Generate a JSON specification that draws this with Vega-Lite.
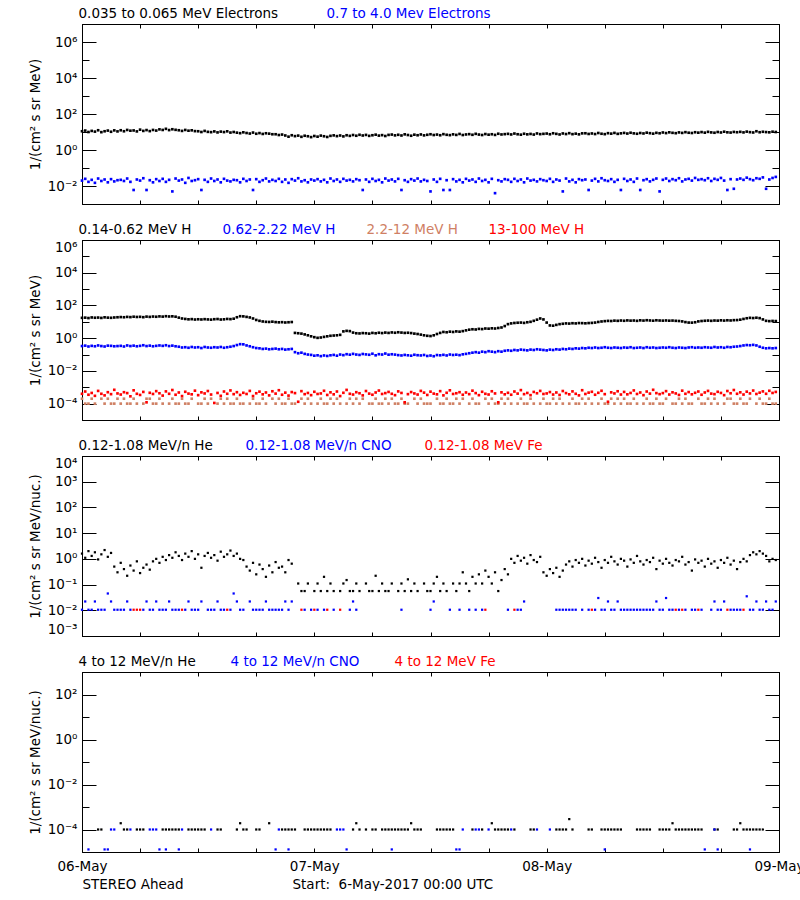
{
"$schema": "https://vega.github.io/schema/vega-lite/v6.json",
"background": "white",
"autosize": {"type": "pad"},
"padding": {"left": 27, "top": 6, "right": 0, "bottom": 0},
"spacing": 36,
"bounds": "flush",
"resolve": {"scale": {"color": "independent"}},
"config": {
  "font": "DejaVu Sans",
  "view": {"stroke": "black", "strokeWidth": 1},
  "axis": {"grid": false, "domainColor": "black", "domainWidth": 1, "tickColor": "black", "tickWidth": 1, "labelColor": "black", "labelFont": "DejaVu Sans", "labelFontSize": 13.5, "titleFont": "DejaVu Sans", "titleFontSize": 13.5, "titleFontWeight": "normal", "titleColor": "black", "labelOverlap": false},
  "legend": {"orient": "none", "legendX": -17, "legendY": -17, "direction": "horizontal", "symbolSize": 0, "symbolOpacity": 0, "symbolStrokeWidth": 0, "labelOffset": 0, "labelFont": "DejaVu Sans", "labelFontSize": 13.5, "labelLimit": 400, "padding": 0}
},
"vconcat": [
{
 "width": 697, "height": 180,
 "data": {"values": [
{"m":0,"a":11,"b":0.02},{"m":20,"a":12,"b":0.025},{"m":40,"a":10,"b":0.017},{"m":60,"a":11.5,"b":0.022},{"m":80,"a":10.5,"b":0.015},{"m":100,"a":12.5,"b":0.026},{"m":120,"a":9.8,"b":0.019},{"m":140,"a":11,"b":0.023},{"m":160,"a":12,"b":0.016},{"m":180,"a":10.3,"b":0.024},{"m":200,"a":12.3,"b":0.018},{"m":220,"a":10.8,"b":0.021},
{"m":240,"a":12.5,"b":0.022},{"m":260,"a":11,"b":0.019},{"m":280,"a":13,"b":0.026},{"m":300,"a":11.8,"b":0.017},{"m":320,"a":12.2,"b":0.006},{"m":340,"a":10.8,"b":0.023},{"m":360,"a":13.5,"b":0.02},{"m":380,"a":11.5,"b":0.027},{"m":400,"a":12.8,"b":0.006},{"m":420,"a":11.2,"b":0.021},{"m":440,"a":13,"b":0.016},{"m":460,"a":12,"b":0.024},
{"m":480,"a":14,"b":0.019},{"m":500,"a":13,"b":0.025},{"m":520,"a":15,"b":0.017},{"m":540,"a":12.8,"b":0.022},{"m":560,"a":14.2,"b":0.005},{"m":580,"a":13.2,"b":0.026},{"m":600,"a":12.5,"b":0.02},{"m":620,"a":11.5,"b":0.023},{"m":640,"a":13,"b":0.015},{"m":660,"a":11.8,"b":0.028},{"m":680,"a":12.4,"b":0.019},{"m":700,"a":11.2,"b":0.021},
{"m":720,"a":11,"b":0.024},{"m":740,"a":10,"b":0.006},{"m":760,"a":11.5,"b":0.022},{"m":780,"a":10.2,"b":0.017},{"m":800,"a":9.8,"b":0.026},{"m":820,"a":10.8,"b":0.019},{"m":840,"a":9.5,"b":0.023},{"m":860,"a":10.5,"b":0.016},{"m":880,"a":9.9,"b":0.025},{"m":900,"a":10.9,"b":0.02},{"m":920,"a":9.3,"b":0.018},{"m":940,"a":10,"b":0.022},
{"m":960,"a":9.2,"b":0.021},{"m":980,"a":8.6,"b":0.016},{"m":1000,"a":9.6,"b":0.025},{"m":1020,"a":8.8,"b":0.019},{"m":1040,"a":8.2,"b":0.023},{"m":1060,"a":9.3,"b":0.006},{"m":1080,"a":8,"b":0.024},{"m":1100,"a":8.7,"b":0.017},{"m":1120,"a":7.8,"b":0.021},{"m":1140,"a":8.5,"b":0.026},{"m":1160,"a":8.1,"b":0.018},{"m":1180,"a":7.5,"b":0.022},
{"m":1200,"a":7.5,"b":0.019},{"m":1220,"a":6.8,"b":0.025},{"m":1240,"a":7.2,"b":0.017},{"m":1260,"a":6.4,"b":0.023},{"m":1280,"a":5.5,"b":0.015},{"m":1300,"a":6.6,"b":0.024},{"m":1320,"a":5.9,"b":0.02},{"m":1340,"a":6.3,"b":0.027},{"m":1360,"a":5.4,"b":0.018},{"m":1380,"a":6.2,"b":0.021},{"m":1400,"a":5.8,"b":0.016},{"m":1420,"a":5.2,"b":0.023},
{"m":1440,"a":6,"b":0.02},{"m":1460,"a":5.5,"b":0.024},{"m":1480,"a":6.3,"b":0.018},{"m":1500,"a":5.8,"b":0.022},{"m":1520,"a":5.3,"b":0.016},{"m":1540,"a":6.1,"b":0.026},{"m":1560,"a":6.5,"b":0.019},{"m":1580,"a":5.9,"b":0.023},{"m":1600,"a":6.4,"b":0.017},{"m":1620,"a":5.7,"b":0.025},{"m":1640,"a":6.6,"b":0.02},{"m":1660,"a":6.1,"b":0.022},
{"m":1680,"a":6.8,"b":0.018},{"m":1700,"a":6.2,"b":0.024},{"m":1720,"a":7,"b":0.021},{"m":1740,"a":6.4,"b":0.006},{"m":1760,"a":6.9,"b":0.023},{"m":1780,"a":6.1,"b":0.017},{"m":1800,"a":6.6,"b":0.025},{"m":1820,"a":7.1,"b":0.019},{"m":1840,"a":6.3,"b":0.022},{"m":1860,"a":6.7,"b":0.016},{"m":1880,"a":6,"b":0.026},{"m":1900,"a":6.9,"b":0.02},
{"m":1920,"a":7.2,"b":0.023},{"m":1940,"a":6.5,"b":0.018},{"m":1960,"a":7,"b":0.025},{"m":1980,"a":6.4,"b":0.006},{"m":2000,"a":7.4,"b":0.021},{"m":2020,"a":6.8,"b":0.017},{"m":2040,"a":6.2,"b":0.024},{"m":2060,"a":7.1,"b":0.02},{"m":2080,"a":6.6,"b":0.026},{"m":2100,"a":7.3,"b":0.018},{"m":2120,"a":6.5,"b":0.022},{"m":2140,"a":7,"b":0.019},
{"m":2160,"a":7.5,"b":0.005},{"m":2180,"a":6.8,"b":0.023},{"m":2200,"a":7.2,"b":0.017},{"m":2220,"a":6.6,"b":0.025},{"m":2240,"a":7.6,"b":0.006},{"m":2260,"a":7,"b":0.021},{"m":2280,"a":6.7,"b":0.006},{"m":2300,"a":7.4,"b":0.024},{"m":2320,"a":6.9,"b":0.018},{"m":2340,"a":7.8,"b":0.022},{"m":2360,"a":6.8,"b":0.016},{"m":2380,"a":7.3,"b":0.025},
{"m":2400,"a":7.6,"b":0.02},{"m":2420,"a":7,"b":0.023},{"m":2440,"a":7.9,"b":0.017},{"m":2460,"a":7.2,"b":0.026},{"m":2480,"a":6.8,"b":0.019},{"m":2500,"a":7.7,"b":0.022},{"m":2520,"a":7.1,"b":0.016},{"m":2540,"a":7.5,"b":0.025},{"m":2560,"a":6.9,"b":0.004},{"m":2580,"a":8,"b":0.021},{"m":2600,"a":7.3,"b":0.018},{"m":2620,"a":7.6,"b":0.024},
{"m":2640,"a":7.9,"b":0.022},{"m":2660,"a":7.3,"b":0.017},{"m":2680,"a":8.2,"b":0.025},{"m":2700,"a":7.5,"b":0.019},{"m":2720,"a":7.1,"b":0.023},{"m":2740,"a":8,"b":0.016},{"m":2760,"a":7.4,"b":0.026},{"m":2780,"a":7.8,"b":0.02},{"m":2800,"a":7.2,"b":0.022},{"m":2820,"a":8.3,"b":0.018},{"m":2840,"a":7.6,"b":0.024},{"m":2860,"a":7.9,"b":0.021},
{"m":2880,"a":8.2,"b":0.019},{"m":2900,"a":7.5,"b":0.025},{"m":2920,"a":8.5,"b":0.017},{"m":2940,"a":7.9,"b":0.023},{"m":2960,"a":7.3,"b":0.02},{"m":2980,"a":8.3,"b":0.005},{"m":3000,"a":7.7,"b":0.026},{"m":3020,"a":8.6,"b":0.018},{"m":3040,"a":7.6,"b":0.022},{"m":3060,"a":8.1,"b":0.016},{"m":3080,"a":7.4,"b":0.024},{"m":3100,"a":8.4,"b":0.021},
{"m":3120,"a":8.5,"b":0.023},{"m":3140,"a":7.8,"b":0.006},{"m":3160,"a":8.3,"b":0.02},{"m":3180,"a":7.7,"b":0.025},{"m":3200,"a":8.8,"b":0.018},{"m":3220,"a":8,"b":0.027},{"m":3240,"a":7.6,"b":0.021},{"m":3260,"a":8.6,"b":0.019},{"m":3280,"a":8.1,"b":0.024},{"m":3300,"a":8.9,"b":0.017},{"m":3320,"a":7.9,"b":0.022},{"m":3340,"a":8.4,"b":0.006},
{"m":3360,"a":8.9,"b":0.025},{"m":3380,"a":8.2,"b":0.019},{"m":3400,"a":9.1,"b":0.023},{"m":3420,"a":8.4,"b":0.017},{"m":3440,"a":8,"b":0.026},{"m":3460,"a":8.8,"b":0.006},{"m":3480,"a":8.3,"b":0.021},{"m":3500,"a":9.2,"b":0.024},{"m":3520,"a":8.6,"b":0.018},{"m":3540,"a":8.1,"b":0.022},{"m":3560,"a":9,"b":0.026},{"m":3580,"a":8.5,"b":0.005},
{"m":3600,"a":9.4,"b":0.022},{"m":3620,"a":8.7,"b":0.026},{"m":3640,"a":9.6,"b":0.019},{"m":3660,"a":9,"b":0.024},{"m":3680,"a":8.6,"b":0.021},{"m":3700,"a":9.5,"b":0.027},{"m":3720,"a":8.9,"b":0.018},{"m":3740,"a":9.8,"b":0.023},{"m":3760,"a":9.1,"b":0.025},{"m":3780,"a":8.8,"b":0.02},{"m":3800,"a":9.7,"b":0.028},{"m":3820,"a":9.2,"b":0.022},
{"m":3840,"a":9.9,"b":0.024},{"m":3860,"a":9.2,"b":0.021},{"m":3880,"a":10.2,"b":0.027},{"m":3900,"a":9.5,"b":0.019},{"m":3920,"a":9.1,"b":0.025},{"m":3940,"a":10,"b":0.022},{"m":3960,"a":9.4,"b":0.028},{"m":3980,"a":10.4,"b":0.02},{"m":4000,"a":9.6,"b":0.006},{"m":4020,"a":9.3,"b":0.024},{"m":4040,"a":10.1,"b":0.007},{"m":4060,"a":9.7,"b":0.023},
{"m":4080,"a":10.2,"b":0.026},{"m":4100,"a":9.5,"b":0.022},{"m":4120,"a":10.5,"b":0.029},{"m":4140,"a":9.8,"b":0.024},{"m":4160,"a":9.4,"b":0.021},{"m":4180,"a":11,"b":0.027},{"m":4200,"a":9.7,"b":0.025},{"m":4220,"a":10.3,"b":0.03},{"m":4240,"a":9.9,"b":0.007},{"m":4260,"a":9.6,"b":0.023},{"m":4280,"a":10.4,"b":0.028},{"m":4300,"a":10,"b":0.032}
 ]},
 "transform": [{"fold": ["a", "b"], "as": ["s", "v"]}],
 "layer": [
  {"transform": [{"filter": "datum.s == 'a'"}],
   "mark": {"type": "square", "size": 7, "opacity": 1},
   "encoding": {
    "x": {"field": "m", "type": "quantitative", "scale": {"domain": [0, 4320], "nice": false, "zero": false}, "axis": {"orient": "bottom", "values": [0,360,720,1080,1440,1800,2160,2520,2880,3240,3600,3960,4320], "tickSize": -4, "labels": false, "title": null}},
    "y": {"field": "v", "type": "quantitative", "scale": {"type": "log", "domain": [0.001, 10000000], "nice": false}, "axis": {"orient": "left", "values": [0.01,0.1,1,10,100,1000,10000,100000,1000000], "tickSize": {"condition": {"test": "round(log(datum.value)/LN10) % 2 == 0", "value": -14}, "value": -7}, "labelPadding": 19, "labelFlush": true, "labelExpr": "round(log(datum.value)/LN10) % 2 == 0 ? '10' + (datum.value < 1 ? '⁻' : '') + substring('⁰¹²³⁴⁵⁶⁷⁸⁹', abs(round(log(datum.value)/LN10)), abs(round(log(datum.value)/LN10)) + 1) : ''", "title": "1/(cm² s sr MeV)", "titleX": -47, "titleBaseline": "middle", "titleAngle": -90}},
    "color": {"field": "s", "type": "nominal", "scale": {"domain": ["a", "b"], "range": ["black", "blue"]}, "legend": {"title": null, "columnPadding": 34, "labelExpr": "datum.value == 'a' ? '0.035 to 0.065 MeV Electrons' : '0.7 to 4.0 Mev Electrons'", "encode": {"labels": {"update": {"fill": {"signal": "datum.value == 'a' ? 'black' : 'blue'"}}}}}}
   }},
  {"transform": [{"filter": "datum.s != 'a'"}],
   "mark": {"type": "square", "size": 7, "opacity": 1},
   "encoding": {
    "x": {"field": "m", "type": "quantitative", "scale": {"domain": [0, 4320], "nice": false, "zero": false}, "axis": {"orient": "top", "values": [0,360,720,1080,1440,1800,2160,2520,2880,3240,3600,3960,4320], "tickSize": -4, "labels": false, "title": null}},
    "y": {"field": "v", "type": "quantitative", "scale": {"type": "log", "domain": [0.001, 10000000], "nice": false}, "axis": {"orient": "right", "values": [0.01,0.1,1,10,100,1000,10000,100000,1000000], "tickSize": {"condition": {"test": "round(log(datum.value)/LN10) % 2 == 0", "value": -14}, "value": -7}, "labels": false, "title": null}},
    "color": {"field": "s", "type": "nominal", "scale": {"domain": ["a", "b"], "range": ["black", "blue"]}, "legend": {"title": null, "columnPadding": 34, "labelExpr": "datum.value == 'a' ? '0.035 to 0.065 MeV Electrons' : '0.7 to 4.0 Mev Electrons'", "encode": {"labels": {"update": {"fill": {"signal": "datum.value == 'a' ? 'black' : 'blue'"}}}}}}
   }}
 ],
 "resolve": {"axis": {"x": "independent", "y": "independent"}}
},
{
 "width": 697, "height": 180,
 "data": {"values": [
{"m":0,"a":17.5,"b":0.33,"c":2e-4,"d":4e-4},{"m":20,"a":18,"b":0.35,"c":1e-4,"d":5.5e-4},{"m":40,"a":17,"b":0.31,"c":1e-4,"d":3.5e-4},{"m":60,"a":18.5,"b":0.34,"c":2e-4,"d":4.5e-4},{"m":80,"a":17.8,"b":0.32,"c":1e-4,"d":3e-4},{"m":100,"a":18.2,"b":0.36,"d":6e-4},{"m":120,"a":17.3,"b":0.33,"c":2e-4,"d":4e-4},{"m":140,"a":18.8,"b":0.31,"c":1e-4,"d":3.2e-4},{"m":160,"a":18,"b":0.35,"c":2e-4,"d":5e-4},{"m":180,"a":17.6,"b":0.34,"c":1e-4,"d":3.8e-4},{"m":200,"a":18.4,"b":0.32,"c":1e-4,"d":7e-4},{"m":220,"a":19,"b":0.33,"c":2e-4,"d":4.2e-4},
{"m":240,"a":19.5,"b":0.34,"c":1e-4,"d":3.6e-4},{"m":260,"a":19,"b":0.31,"c":2e-4,"d":5e-4},{"m":280,"a":20,"b":0.36,"c":1e-4,"d":4.4e-4},{"m":300,"a":19.4,"b":0.33,"c":1e-4,"d":2.8e-4},{"m":320,"a":20.5,"b":0.35,"c":2e-4,"d":6.5e-4},{"m":340,"a":19.8,"b":0.32,"c":1e-4,"d":4e-4},{"m":360,"a":20.2,"b":0.34,"d":3.4e-4},{"m":380,"a":19.2,"b":0.37,"c":1e-4,"d":5.2e-4},{"m":400,"a":20.8,"b":0.33,"c":2e-4,"d":1.2e-4},{"m":420,"a":20,"b":0.35,"c":2e-4,"d":4.6e-4},{"m":440,"a":21,"b":0.32,"c":1e-4,"d":3.9e-4},{"m":460,"a":20.4,"b":0.34,"c":1e-4,"d":5.8e-4},
{"m":480,"a":21.5,"b":0.36,"c":2e-4,"d":4.3e-4},{"m":500,"a":20.8,"b":0.34,"c":1e-4,"d":3.1e-4},{"m":520,"a":22,"b":0.37,"d":5.6e-4},{"m":540,"a":21.2,"b":0.33,"c":1e-4,"d":4e-4},{"m":560,"a":21.6,"b":0.35,"c":2e-4,"d":6.8e-4},{"m":580,"a":20.5,"b":0.32,"c":1e-4,"d":3.5e-4},{"m":600,"a":18,"b":0.3,"c":1e-4,"d":4.8e-4},{"m":620,"a":16,"b":0.27,"c":2e-4,"d":2.9e-4},{"m":640,"a":15,"b":0.28,"c":1e-4,"d":5.3e-4},{"m":660,"a":14.2,"b":0.26,"c":1e-4,"d":4.1e-4},{"m":680,"a":14.6,"b":0.29,"c":2e-4,"d":3.7e-4},{"m":700,"a":13.8,"b":0.27,"d":6.2e-4},
{"m":720,"a":14.3,"b":0.28,"c":1e-4,"d":3.3e-4},{"m":740,"a":13.9,"b":0.25,"c":1e-4,"d":4.9e-4},{"m":760,"a":14.5,"b":0.29,"c":2e-4,"d":4.2e-4},{"m":780,"a":14,"b":0.27,"c":1e-4,"d":5.9e-4},{"m":800,"a":13.6,"b":0.26,"c":2e-4,"d":3.6e-4},{"m":820,"a":14.4,"b":0.28,"d":1.1e-4},{"m":840,"a":14.8,"b":0.27,"c":1e-4,"d":4.5e-4},{"m":860,"a":13.8,"b":0.29,"c":2e-4,"d":3e-4},{"m":880,"a":14.2,"b":0.26,"c":1e-4,"d":5.5e-4},{"m":900,"a":15,"b":0.28,"c":2e-4,"d":4e-4},{"m":920,"a":14.6,"b":0.3,"c":1e-4,"d":6.4e-4},{"m":940,"a":15.5,"b":0.33,"c":1e-4,"d":3.8e-4},
{"m":960,"a":19,"b":0.38,"c":2e-4,"d":5e-4},{"m":980,"a":22,"b":0.43,"c":1e-4,"d":3.4e-4},{"m":1000,"a":21.5,"b":0.42,"c":1e-4,"d":4.6e-4},{"m":1020,"a":20,"b":0.36,"d":3.9e-4},{"m":1040,"a":18.5,"b":0.32,"c":1e-4,"d":6e-4},{"m":1060,"a":16,"b":0.28,"c":2e-4,"d":2.9e-4},{"m":1080,"a":13,"b":0.25,"c":1e-4,"d":4.3e-4},{"m":1100,"a":11.5,"b":0.24,"c":1e-4,"d":5.4e-4},{"m":1120,"a":10.5,"b":0.22,"c":2e-4,"d":3.7e-4},{"m":1140,"a":10,"b":0.23,"c":1e-4,"d":4.8e-4},{"m":1160,"a":9.8,"b":0.21,"d":3.2e-4},{"m":1180,"a":10.2,"b":0.22,"c":2e-4,"d":5.7e-4},
{"m":1200,"a":9.6,"b":0.23,"c":1e-4,"d":4.1e-4},{"m":1220,"a":9.3,"b":0.21,"c":2e-4,"d":6.6e-4},{"m":1240,"a":9.5,"b":0.22,"c":1e-4,"d":3.5e-4},{"m":1260,"a":9.1,"b":0.2,"c":1e-4,"d":4.7e-4},{"m":1280,"a":9.4,"b":0.21,"c":2e-4,"d":3.1e-4},{"m":1300,"a":9.7,"b":0.22,"c":1e-4,"d":5.1e-4},{"m":1320,"a":2.1,"b":0.14,"c":1e-4,"d":4.4e-4},{"m":1340,"a":2,"b":0.12,"d":1.3e-4},{"m":1360,"a":1.9,"b":0.13,"c":2e-4,"d":5.8e-4},{"m":1380,"a":1.7,"b":0.11,"c":1e-4,"d":3.8e-4},{"m":1400,"a":1.5,"b":0.1,"c":2e-4,"d":4.5e-4},{"m":1420,"a":1.3,"b":0.095,"c":1e-4,"d":3.3e-4},
{"m":1440,"a":1.15,"b":0.085,"d":5.3e-4},{"m":1460,"a":1.05,"b":0.09,"c":1e-4,"d":3.9e-4},{"m":1480,"a":1.1,"b":0.08,"c":2e-4,"d":4.2e-4},{"m":1500,"a":1.2,"b":0.088,"c":1e-4,"d":6.1e-4},{"m":1520,"a":1.3,"b":0.082,"c":1e-4,"d":3.4e-4},{"m":1540,"a":1.4,"b":0.09,"c":2e-4,"d":4.9e-4},{"m":1560,"a":1.45,"b":0.095,"c":1e-4,"d":3.7e-4},{"m":1580,"a":1.5,"b":0.085,"c":2e-4,"d":5.5e-4},{"m":1600,"a":1.6,"b":0.1,"c":1e-4,"d":2.9e-4},{"m":1620,"a":2.6,"b":0.092,"d":4.6e-4},{"m":1640,"a":2.8,"b":0.105,"c":1e-4,"d":6.9e-4},{"m":1660,"a":2.7,"b":0.098,"c":2e-4,"d":4e-4},
{"m":1680,"a":2.2,"b":0.11,"c":1e-4,"d":3.6e-4},{"m":1700,"a":2,"b":0.1,"c":2e-4,"d":5e-4},{"m":1720,"a":1.95,"b":0.095,"c":1e-4,"d":4.3e-4},{"m":1740,"a":2.05,"b":0.108,"c":2e-4,"d":3.2e-4},{"m":1760,"a":2,"b":0.102,"d":5.9e-4},{"m":1780,"a":1.9,"b":0.097,"c":1e-4,"d":4.1e-4},{"m":1800,"a":2.1,"b":0.112,"c":1e-4,"d":3.5e-4},{"m":1820,"a":2,"b":0.09,"c":2e-4,"d":4.8e-4},{"m":1840,"a":2.15,"b":0.105,"c":1e-4,"d":6.3e-4},{"m":1860,"a":2.05,"b":0.1,"c":1e-4,"d":3.9e-4},{"m":1880,"a":2.2,"b":0.115,"c":2e-4,"d":4.4e-4},{"m":1900,"a":2.1,"b":0.098,"c":1e-4,"d":5.2e-4},
{"m":1920,"a":2.25,"b":0.104,"c":2e-4,"d":4e-4},{"m":1940,"a":2.15,"b":0.099,"c":1e-4,"d":3.3e-4},{"m":1960,"a":2.3,"b":0.092,"c":1e-4,"d":5.6e-4},{"m":1980,"a":2.2,"b":0.088,"c":2e-4,"d":4.5e-4},{"m":2000,"a":2.1,"b":0.095,"c":1e-4,"d":1.2e-4},{"m":2020,"a":2.15,"b":0.09,"c":1e-4,"d":3.8e-4},{"m":2040,"a":2.05,"b":0.085,"d":5.1e-4},{"m":2060,"a":1.9,"b":0.097,"c":2e-4,"d":4.2e-4},{"m":2080,"a":1.8,"b":0.091,"c":1e-4,"d":3.6e-4},{"m":2100,"a":1.65,"b":0.088,"c":2e-4,"d":6e-4},{"m":2120,"a":1.5,"b":0.094,"c":1e-4,"d":4.7e-4},{"m":2140,"a":1.4,"b":0.082,"c":1e-4,"d":3.4e-4},
{"m":2160,"a":1.35,"b":0.087,"c":1e-4,"d":5.4e-4},{"m":2180,"a":1.5,"b":0.079,"d":4.1e-4},{"m":2200,"a":1.8,"b":0.093,"c":2e-4,"d":3.7e-4},{"m":2220,"a":2.1,"b":0.09,"c":1e-4,"d":5.8e-4},{"m":2240,"a":2.4,"b":0.096,"c":1e-4,"d":3.2e-4},{"m":2260,"a":2.3,"b":0.088,"c":2e-4,"d":4.6e-4},{"m":2280,"a":2.5,"b":0.1,"c":1e-4,"d":6.5e-4},{"m":2300,"a":2.4,"b":0.094,"c":1e-4,"d":3.9e-4},{"m":2320,"a":2.6,"b":0.098,"c":2e-4,"d":4.3e-4},{"m":2340,"a":2.5,"b":0.092,"c":1e-4,"d":5e-4},{"m":2360,"a":2.7,"b":0.103,"c":2e-4,"d":3.5e-4},{"m":2380,"a":3,"b":0.11,"d":4.8e-4},
{"m":2400,"a":3.3,"b":0.12,"c":1e-4,"d":3.8e-4},{"m":2420,"a":3.5,"b":0.13,"c":2e-4,"d":6.2e-4},{"m":2440,"a":3.4,"b":0.14,"c":1e-4,"d":4.4e-4},{"m":2460,"a":3.7,"b":0.13,"c":1e-4,"d":3.3e-4},{"m":2480,"a":3.6,"b":0.15,"d":5.3e-4},{"m":2500,"a":3.9,"b":0.14,"c":2e-4,"d":4e-4},{"m":2520,"a":3.8,"b":0.16,"c":1e-4,"d":3.6e-4},{"m":2540,"a":4,"b":0.15,"c":2e-4,"d":5.7e-4},{"m":2560,"a":3.9,"b":0.14,"c":1e-4,"d":4.2e-4},{"m":2580,"a":4.2,"b":0.16,"c":1e-4,"d":1.2e-4},{"m":2600,"a":4.5,"b":0.15,"c":2e-4,"d":4.9e-4},{"m":2620,"a":5.5,"b":0.17,"c":1e-4,"d":3.7e-4},
{"m":2640,"a":7.2,"b":0.18,"c":2e-4,"d":4.6e-4},{"m":2660,"a":8,"b":0.17,"c":1e-4,"d":3.5e-4},{"m":2680,"a":8.5,"b":0.19,"d":5.5e-4},{"m":2700,"a":8.8,"b":0.18,"c":1e-4,"d":4.1e-4},{"m":2720,"a":9,"b":0.2,"c":2e-4,"d":6.7e-4},{"m":2740,"a":8.6,"b":0.19,"c":1e-4,"d":3.8e-4},{"m":2760,"a":9.4,"b":0.18,"c":1e-4,"d":4.5e-4},{"m":2780,"a":10,"b":0.2,"c":2e-4,"d":3.3e-4},{"m":2800,"a":11.5,"b":0.19,"c":1e-4,"d":5.2e-4},{"m":2820,"a":13.5,"b":0.21,"d":4.3e-4},{"m":2840,"a":16,"b":0.2,"c":1e-4,"d":6e-4},{"m":2860,"a":14,"b":0.19,"c":2e-4,"d":3.9e-4},
{"m":2880,"a":9,"b":0.18,"c":1e-4,"d":4.2e-4},{"m":2900,"a":6,"b":0.2,"c":1e-4,"d":5.1e-4},{"m":2920,"a":5.8,"b":0.19,"c":2e-4,"d":3.6e-4},{"m":2940,"a":6.5,"b":0.21,"c":1e-4,"d":4.8e-4},{"m":2960,"a":7.2,"b":0.2,"c":2e-4,"d":3.4e-4},{"m":2980,"a":7.6,"b":0.22,"c":1e-4,"d":5.9e-4},{"m":3000,"a":8,"b":0.21,"d":4.4e-4},{"m":3020,"a":7.8,"b":0.23,"c":1e-4,"d":3.7e-4},{"m":3040,"a":8.2,"b":0.22,"c":2e-4,"d":5.6e-4},{"m":3060,"a":8,"b":0.24,"c":1e-4,"d":4e-4},{"m":3080,"a":8.4,"b":0.23,"c":1e-4,"d":3.2e-4},{"m":3100,"a":8.3,"b":0.25,"c":2e-4,"d":6.6e-4},
{"m":3120,"a":8.1,"b":0.24,"c":1e-4,"d":3.9e-4},{"m":3140,"a":8.4,"b":0.26,"c":2e-4,"d":4.7e-4},{"m":3160,"a":8.6,"b":0.25,"c":1e-4,"d":5.3e-4},{"m":3180,"a":9,"b":0.27,"d":3.5e-4},{"m":3200,"a":9.8,"b":0.25,"c":1e-4,"d":4.6e-4},{"m":3220,"a":10.5,"b":0.26,"c":2e-4,"d":6.1e-4},{"m":3240,"a":11,"b":0.28,"c":1e-4,"d":3.8e-4},{"m":3260,"a":11.4,"b":0.26,"c":1e-4,"d":1.3e-4},{"m":3280,"a":11.2,"b":0.25,"c":2e-4,"d":4.9e-4},{"m":3300,"a":11.8,"b":0.27,"c":1e-4,"d":4.2e-4},{"m":3320,"a":11.5,"b":0.26,"c":2e-4,"d":5.7e-4},{"m":3340,"a":12,"b":0.25,"c":1e-4,"d":3.6e-4},
{"m":3360,"a":11.6,"b":0.27,"c":2e-4,"d":5.2e-4},{"m":3380,"a":12.2,"b":0.26,"c":1e-4,"d":3.7e-4},{"m":3400,"a":11.8,"b":0.28,"c":1e-4,"d":4.5e-4},{"m":3420,"a":12,"b":0.25,"c":2e-4,"d":6.4e-4},{"m":3440,"a":11.5,"b":0.26,"c":1e-4,"d":3.9e-4},{"m":3460,"a":12.3,"b":0.27,"d":4.8e-4},{"m":3480,"a":11.9,"b":0.25,"c":1e-4,"d":3.3e-4},{"m":3500,"a":12.5,"b":0.28,"c":2e-4,"d":5.5e-4},{"m":3520,"a":12.1,"b":0.26,"c":1e-4,"d":4.1e-4},{"m":3540,"a":11.7,"b":0.27,"c":1e-4,"d":7e-4},{"m":3560,"a":12.4,"b":0.25,"c":2e-4,"d":4.4e-4},{"m":3580,"a":12,"b":0.26,"c":1e-4,"d":3.8e-4},
{"m":3600,"a":11.8,"b":0.27,"c":1e-4,"d":4.4e-4},{"m":3620,"a":12.1,"b":0.26,"c":2e-4,"d":5.8e-4},{"m":3640,"a":11.7,"b":0.28,"d":3.6e-4},{"m":3660,"a":11.9,"b":0.26,"c":1e-4,"d":4.9e-4},{"m":3680,"a":11.5,"b":0.25,"c":1e-4,"d":4.2e-4},{"m":3700,"a":11.2,"b":0.27,"c":2e-4,"d":3.4e-4},{"m":3720,"a":10.6,"b":0.26,"c":1e-4,"d":6.2e-4},{"m":3740,"a":9.6,"b":0.25,"c":2e-4,"d":4e-4},{"m":3760,"a":9,"b":0.27,"c":1e-4,"d":5.1e-4},{"m":3780,"a":8.9,"b":0.28,"c":1e-4,"d":3.7e-4},{"m":3800,"a":9.4,"b":0.26,"d":4.6e-4},{"m":3820,"a":10.6,"b":0.27,"c":2e-4,"d":5.5e-4},
{"m":3840,"a":11.2,"b":0.26,"c":1e-4,"d":3.5e-4},{"m":3860,"a":11.6,"b":0.28,"c":1e-4,"d":4.8e-4},{"m":3880,"a":11.9,"b":0.27,"c":2e-4,"d":6e-4},{"m":3900,"a":11.5,"b":0.26,"c":1e-4,"d":4.1e-4},{"m":3920,"a":12,"b":0.29,"c":2e-4,"d":3.8e-4},{"m":3940,"a":11.8,"b":0.27,"c":1e-4,"d":5.3e-4},{"m":3960,"a":12.3,"b":0.28,"d":4.5e-4},{"m":3980,"a":11.9,"b":0.26,"c":1e-4,"d":3.3e-4},{"m":4000,"a":12.4,"b":0.29,"c":2e-4,"d":5.9e-4},{"m":4020,"a":12.1,"b":0.28,"c":2e-4,"d":4.3e-4},{"m":4040,"a":12.6,"b":0.3,"c":1e-4,"d":6.8e-4},{"m":4060,"a":12.8,"b":0.31,"c":1e-4,"d":4e-4},
{"m":4080,"a":13.5,"b":0.33,"c":2e-4,"d":4.9e-4},{"m":4100,"a":15,"b":0.36,"c":1e-4,"d":3.6e-4},{"m":4120,"a":16.5,"b":0.38,"c":1e-4,"d":5.4e-4},{"m":4140,"a":17.5,"b":0.37,"c":2e-4,"d":4.2e-4},{"m":4160,"a":17,"b":0.39,"d":6.3e-4},{"m":4180,"a":17.8,"b":0.36,"c":1e-4,"d":3.9e-4},{"m":4200,"a":16.8,"b":0.3,"c":2e-4,"d":4.7e-4},{"m":4220,"a":14,"b":0.26,"c":1e-4,"d":5.6e-4},{"m":4240,"a":11.5,"b":0.24,"c":1e-4,"d":4e-4},{"m":4260,"a":11,"b":0.25,"c":2e-4,"d":6.1e-4},{"m":4280,"a":11.3,"b":0.24,"c":1e-4,"d":4.5e-4},{"m":4300,"a":11.1,"b":0.25,"c":1e-4,"d":5.2e-4}
 ]},
 "transform": [{"fold": ["a", "b", "c", "d"], "as": ["s", "v"]}],
 "layer": [
  {"transform": [{"filter": "datum.s == 'a'"}],
   "mark": {"type": "square", "size": 7, "opacity": 1},
   "encoding": {
    "x": {"field": "m", "type": "quantitative", "scale": {"domain": [0, 4320], "nice": false, "zero": false}, "axis": {"orient": "bottom", "values": [0,360,720,1080,1440,1800,2160,2520,2880,3240,3600,3960,4320], "tickSize": -4, "labels": false, "title": null}},
    "y": {"field": "v", "type": "quantitative", "scale": {"type": "log", "domain": [0.00001, 1000000], "nice": false}, "axis": {"orient": "left", "values": [0.0001,0.001,0.01,0.1,1,10,100,1000,10000,100000,1000000], "tickSize": {"condition": {"test": "round(log(datum.value)/LN10) % 2 == 0", "value": -14}, "value": -7}, "labelPadding": 19, "labelFlush": true, "labelExpr": "round(log(datum.value)/LN10) % 2 == 0 ? '10' + (datum.value < 1 ? '⁻' : '') + substring('⁰¹²³⁴⁵⁶⁷⁸⁹', abs(round(log(datum.value)/LN10)), abs(round(log(datum.value)/LN10)) + 1) : ''", "title": "1/(cm² s sr MeV)", "titleX": -47, "titleBaseline": "middle", "titleAngle": -90}},
    "color": {"field": "s", "type": "nominal", "scale": {"domain": ["a", "b", "c", "d"], "range": ["black", "blue", "#cf8064", "red"]}, "legend": {"title": null, "columnPadding": 17, "labelExpr": "datum.value == 'a' ? '0.14-0.62 MeV H' : datum.value == 'b' ? '0.62-2.22 MeV H' : datum.value == 'c' ? '2.2-12 MeV H' : '13-100 MeV H'", "encode": {"labels": {"update": {"fill": {"signal": "datum.value == 'a' ? 'black' : datum.value == 'b' ? 'blue' : datum.value == 'c' ? '#cf8064' : 'red'"}}}}}}
   }},
  {"transform": [{"filter": "datum.s != 'a'"}],
   "mark": {"type": "square", "size": 7, "opacity": 1},
   "encoding": {
    "x": {"field": "m", "type": "quantitative", "scale": {"domain": [0, 4320], "nice": false, "zero": false}, "axis": {"orient": "top", "values": [0,360,720,1080,1440,1800,2160,2520,2880,3240,3600,3960,4320], "tickSize": -4, "labels": false, "title": null}},
    "y": {"field": "v", "type": "quantitative", "scale": {"type": "log", "domain": [0.00001, 1000000], "nice": false}, "axis": {"orient": "right", "values": [0.0001,0.001,0.01,0.1,1,10,100,1000,10000,100000,1000000], "tickSize": {"condition": {"test": "round(log(datum.value)/LN10) % 2 == 0", "value": -14}, "value": -7}, "labels": false, "title": null}},
    "color": {"field": "s", "type": "nominal", "scale": {"domain": ["a", "b", "c", "d"], "range": ["black", "blue", "#cf8064", "red"]}, "legend": {"title": null, "columnPadding": 17, "labelExpr": "datum.value == 'a' ? '0.14-0.62 MeV H' : datum.value == 'b' ? '0.62-2.22 MeV H' : datum.value == 'c' ? '2.2-12 MeV H' : '13-100 MeV H'", "encode": {"labels": {"update": {"fill": {"signal": "datum.value == 'a' ? 'black' : datum.value == 'b' ? 'blue' : datum.value == 'c' ? '#cf8064' : 'red'"}}}}}}
   }}
 ],
 "resolve": {"axis": {"x": "independent", "y": "independent"}}
},
{
 "width": 697, "height": 180,
 "data": {"values": [
{"m":0,"a":1.6,"b":0.0105},{"m":20,"a":1.1,"b":0.022},{"m":40,"a":2,"b":0.0105},{"m":60,"a":1.3,"b":0.0105},{"m":80,"a":1.8,"b":0.022},{"m":100,"a":0.95,"b":0.0105},{"m":120,"a":1.5,"b":0.0105},{"m":140,"a":2.2,"b":0.0105},{"m":160,"a":1.2,"b":0.045},{"m":180,"a":1.7,"b":0.022},{"m":200,"a":0.5,"b":0.0105},{"m":220,"a":0.3,"b":0.0105},
{"m":240,"a":0.7,"b":0.0105},{"m":260,"a":0.4,"b":0.0105},{"m":280,"a":0.22,"b":0.022},{"m":300,"a":0.55,"b":0.0105},{"m":320,"a":0.35,"c":0.0105},{"m":340,"a":0.8,"c":0.0105},{"m":360,"a":0.28,"c":0.0105},{"m":380,"a":0.45,"b":0.0105},{"m":400,"a":0.6,"b":0.022},{"m":420,"a":0.38,"b":0.0105},{"m":440,"a":0.8,"b":0.0105},{"m":460,"a":1,"b":0.022},
{"m":480,"a":0.7,"b":0.0105},{"m":500,"a":1.2,"b":0.0105},{"m":520,"a":0.9,"b":0.0105},{"m":540,"a":1.4,"b":0.022},{"m":560,"a":1.1,"b":0.0105},{"m":580,"a":1.8,"b":0.0105},{"m":600,"a":1.3,"b":0.0105},{"m":620,"a":0.9,"c":0.0105},{"m":640,"a":1.6,"b":0.0105},{"m":660,"a":1.2,"b":0.022},{"m":680,"a":2,"b":0.0105},{"m":700,"a":1,"b":0.0105},
{"m":720,"a":1.5,"b":0.0105},{"m":740,"a":0.45,"b":0.022},{"m":760,"a":1.3},{"m":780,"a":1.7,"b":0.0105},{"m":800,"a":1.1,"b":0.0105},{"m":820,"a":1.4,"b":0.0105},{"m":840,"a":0.85,"b":0.022},{"m":860,"a":1.9,"b":0.0105},{"m":880,"a":1.2,"b":0.0105},{"m":900,"a":1.5,"c":0.0105},{"m":920,"a":2.1,"b":0.0105},{"m":940,"a":1.3,"b":0.045},
{"m":960,"a":1.6,"b":0.022},{"m":980,"a":1,"b":0.0105},{"m":1000,"a":0.9,"b":0.0105},{"m":1020,"a":0.5},{"m":1040,"a":0.35,"b":0.022},{"m":1060,"a":0.7,"b":0.0105},{"m":1080,"a":0.25,"b":0.0105},{"m":1100,"a":0.6,"b":0.0105},{"m":1120,"a":0.4,"b":0.0105},{"m":1140,"a":0.2,"b":0.022},{"m":1160,"a":0.55,"b":0.0105},{"m":1180,"a":0.3,"b":0.0105},
{"m":1200,"a":0.75,"b":0.0105},{"m":1220,"a":0.45,"b":0.0105},{"m":1240,"a":0.5,"b":0.0105},{"m":1260,"a":0.3,"b":0.022},{"m":1280,"a":0.9,"b":0.0105},{"m":1300,"a":0.65,"b":0.022},{"m":1340,"a":0.11},{"m":1360,"a":0.056,"c":0.0105},{"m":1380,"a":0.056,"b":0.0105},{"m":1400,"a":0.11},{"m":1420,"b":0.0105},
{"m":1440,"a":0.056,"c":0.0105},{"m":1460,"a":0.11,"b":0.0105},{"m":1480,"a":0.056},{"m":1500,"a":0.2,"b":0.0105},{"m":1520,"a":0.056,"c":0.0105},{"m":1540,"a":0.11},{"m":1560,"a":0.056,"b":0.0105},{"m":1600,"a":0.056,"c":0.0105},{"m":1620,"a":0.11},{"m":1640,"a":0.15},{"m":1660,"a":0.056,"b":0.0105},
{"m":1680,"a":0.056,"b":0.022},{"m":1700,"a":0.11,"b":0.0105},{"m":1720,"a":0.056},{"m":1760,"a":0.11},{"m":1780,"a":0.056},{"m":1800,"a":0.056},{"m":1820,"a":0.22},{"m":1840,"a":0.056},{"m":1860,"a":0.11},{"m":1880,"a":0.056},{"m":1900,"a":0.056},
{"m":1920,"a":0.11},{"m":1960,"a":0.056},{"m":1980,"a":0.11,"b":0.0105},{"m":2000,"a":0.056},{"m":2020,"a":0.16},{"m":2040,"a":0.056},{"m":2060,"a":0.11},{"m":2080,"a":0.056},{"m":2120,"a":0.11},{"m":2140,"a":0.056},
{"m":2160,"a":0.056,"b":0.0105},{"m":2180,"a":0.11,"b":0.022},{"m":2200,"a":0.2},{"m":2220,"a":0.056},{"m":2240,"a":0.11},{"m":2260,"a":0.056},{"m":2280,"b":0.0105},{"m":2300,"a":0.11},{"m":2320,"a":0.056},{"m":2340,"a":0.11,"b":0.0105},{"m":2360,"a":0.3},{"m":2380,"a":0.11},
{"m":2400,"a":0.056,"b":0.0105},{"m":2420,"a":0.2},{"m":2440,"a":0.11,"b":0.0105},{"m":2460,"a":0.25},{"m":2480,"a":0.11,"b":0.0105},{"m":2500,"a":0.35,"c":0.0105},{"m":2520,"a":0.2},{"m":2540,"a":0.11},{"m":2560,"a":0.3},{"m":2580,"a":0.056},{"m":2600,"a":0.15},{"m":2620,"a":0.4},
{"m":2640,"a":0.25,"b":0.0105},{"m":2660,"a":1},{"m":2680,"a":0.7,"c":0.0105},{"m":2700,"a":1.3,"b":0.0105},{"m":2720,"a":0.85,"b":0.0105},{"m":2740,"a":1.1,"b":0.022},{"m":2760,"a":0.65},{"m":2780,"a":1.4},{"m":2800,"a":0.9},{"m":2820,"a":0.75},{"m":2840,"a":1.2},{"m":2860,"a":0.3},
{"m":2880,"a":0.22},{"m":2900,"a":0.4},{"m":2920,"a":0.28},{"m":2940,"a":0.45,"b":0.0105},{"m":2960,"a":0.2,"b":0.0105},{"m":2980,"a":0.35,"b":0.0105},{"m":3000,"a":0.6,"b":0.0105},{"m":3020,"a":0.8,"b":0.0105},{"m":3040,"a":0.5,"b":0.0105},{"m":3060,"a":0.9,"b":0.0105},{"m":3080,"a":0.7},{"m":3100,"a":1,"b":0.0105},
{"m":3120,"a":0.55},{"m":3140,"a":0.85,"b":0.0105},{"m":3160,"a":0.65,"c":0.0105},{"m":3180,"a":1.1,"b":0.0105},{"m":3200,"a":0.75,"b":0.03},{"m":3220,"a":0.45,"b":0.0105},{"m":3240,"a":0.9,"b":0.0105},{"m":3260,"a":0.7,"b":0.022},{"m":3280,"a":1.2,"b":0.0105},{"m":3300,"a":0.8,"b":0.0105},{"m":3320,"a":0.6,"b":0.022},{"m":3340,"a":1,"b":0.0105},
{"m":3360,"a":0.85,"b":0.0105},{"m":3380,"a":0.5,"b":0.0105},{"m":3400,"a":0.95,"b":0.0105},{"m":3420,"a":0.7,"b":0.0105},{"m":3440,"a":1.3,"b":0.0105},{"m":3460,"a":0.8,"b":0.0105},{"m":3480,"a":0.6,"b":0.0105},{"m":3500,"a":0.9,"b":0.0105},{"m":3520,"a":0.75,"b":0.0105},{"m":3540,"a":1.1,"b":0.0105},{"m":3560,"a":0.4,"b":0.022},{"m":3580,"a":0.85,"b":0.0105},
{"m":3600,"a":0.65,"b":0.0105},{"m":3620,"a":1,"b":0.03},{"m":3640,"a":0.7,"b":0.0105},{"m":3660,"a":0.55,"b":0.0105},{"m":3680,"a":0.9,"c":0.0105},{"m":3700,"a":0.8,"b":0.0105},{"m":3720,"a":1.2,"c":0.0105},{"m":3740,"a":0.6,"b":0.0105},{"m":3760,"a":0.75},{"m":3780,"a":0.35,"b":0.0105},{"m":3800,"a":0.95,"b":0.0105},{"m":3820,"a":0.7,"c":0.0105},
{"m":3840,"a":0.85,"b":0.0105},{"m":3860,"a":0.5},{"m":3880,"a":1},{"m":3900,"a":0.65,"b":0.0105},{"m":3920,"a":0.8,"b":0.022},{"m":3940,"a":0.45,"b":0.0105},{"m":3960,"a":0.9,"b":0.0105},{"m":3980,"a":0.7,"b":0.022},{"m":4000,"a":1.1,"c":0.0105},{"m":4020,"a":0.6,"b":0.0105},{"m":4040,"a":0.85,"b":0.0105},{"m":4060,"a":0.4,"b":0.0105},
{"m":4080,"a":0.75,"b":0.0105},{"m":4100,"a":1,"c":0.0105},{"m":4120,"a":0.8,"b":0.035},{"m":4140,"a":1.4,"b":0.0105},{"m":4160,"a":1.8,"b":0.0105},{"m":4180,"a":1.5,"b":0.022},{"m":4200,"a":2,"b":0.0105},{"m":4220,"a":1.6,"b":0.0105},{"m":4240,"a":1.3,"b":0.022},{"m":4260,"a":0.8,"b":0.0105},{"m":4280,"a":1,"b":0.0105},{"m":4300,"a":0.9,"b":0.022}
 ]},
 "transform": [{"fold": ["a", "b", "c"], "as": ["s", "v"]}],
 "layer": [
  {"transform": [{"filter": "datum.s == 'a'"}],
   "mark": {"type": "square", "size": 5, "opacity": 1},
   "encoding": {
    "x": {"field": "m", "type": "quantitative", "scale": {"domain": [0, 4320], "nice": false, "zero": false}, "axis": {"orient": "bottom", "values": [0,360,720,1080,1440,1800,2160,2520,2880,3240,3600,3960,4320], "tickSize": -4, "labels": false, "title": null}},
    "y": {"field": "v", "type": "quantitative", "scale": {"type": "log", "domain": [0.001, 10000], "nice": false}, "axis": {"orient": "left", "values": [0.001,0.01,0.1,1,10,100,1000,10000], "tickSize": -14, "labelPadding": 19, "labelFlush": true, "labelExpr": "'10' + (datum.value < 1 ? '⁻' : '') + substring('⁰¹²³⁴⁵⁶⁷⁸⁹', abs(round(log(datum.value)/LN10)), abs(round(log(datum.value)/LN10)) + 1)", "title": "1/(cm² s sr MeV/nuc.)", "titleX": -47, "titleBaseline": "middle", "titleAngle": -90}},
    "color": {"field": "s", "type": "nominal", "scale": {"domain": ["a", "b", "c"], "range": ["black", "blue", "red"]}, "legend": {"title": null, "columnPadding": 19, "labelExpr": "datum.value == 'a' ? '0.12-1.08 MeV/n He' : datum.value == 'b' ? '0.12-1.08 MeV/n CNO' : '0.12-1.08 MeV Fe'", "encode": {"labels": {"update": {"fill": {"signal": "datum.value == 'a' ? 'black' : datum.value == 'b' ? 'blue' : 'red'"}}}}}}
   }},
  {"transform": [{"filter": "datum.s != 'a'"}],
   "mark": {"type": "square", "size": 5, "opacity": 1},
   "encoding": {
    "x": {"field": "m", "type": "quantitative", "scale": {"domain": [0, 4320], "nice": false, "zero": false}, "axis": {"orient": "top", "values": [0,360,720,1080,1440,1800,2160,2520,2880,3240,3600,3960,4320], "tickSize": -4, "labels": false, "title": null}},
    "y": {"field": "v", "type": "quantitative", "scale": {"type": "log", "domain": [0.001, 10000], "nice": false}, "axis": {"orient": "right", "values": [0.001,0.01,0.1,1,10,100,1000,10000], "tickSize": -14, "labels": false, "title": null}},
    "color": {"field": "s", "type": "nominal", "scale": {"domain": ["a", "b", "c"], "range": ["black", "blue", "red"]}, "legend": {"title": null, "columnPadding": 19, "labelExpr": "datum.value == 'a' ? '0.12-1.08 MeV/n He' : datum.value == 'b' ? '0.12-1.08 MeV/n CNO' : '0.12-1.08 MeV Fe'", "encode": {"labels": {"update": {"fill": {"signal": "datum.value == 'a' ? 'black' : datum.value == 'b' ? 'blue' : 'red'"}}}}}}
   }}
 ],
 "resolve": {"axis": {"x": "independent", "y": "independent"}}
},
{
 "width": 697, "height": 180,
 "data": {"values": [
{"m":40,"b":1.3e-5},{"m":100,"a":1e-4},{"m":120,"a":1e-4},{"m":140,"b":1.3e-5},{"m":160,"b":1.3e-5},{"m":180,"b":1e-4},{"m":200,"b":1e-4},{"m":240,"a":1.9e-4},{"m":260,"a":1e-4},{"m":280,"a":1e-4},{"m":300,"b":1e-4},
{"m":340,"a":1e-4},{"m":360,"a":1e-4},{"m":380,"a":1e-4},{"m":420,"b":1e-4},{"m":440,"b":1e-4},{"m":460,"b":1e-4},{"m":480,"b":1.3e-5},{"m":500,"a":1e-4},{"m":520,"a":1e-4,"b":1.3e-5},{"m":540,"a":1e-4},{"m":560,"a":1e-4},{"m":580,"a":1e-4},{"m":600,"a":1e-4,"b":1.3e-5},{"m":620,"b":1e-4},
{"m":660,"a":1e-4},{"m":680,"a":1e-4},{"m":700,"a":1e-4},{"m":720,"a":1e-4},{"m":740,"a":1e-4},{"m":760,"a":1e-4},{"m":800,"b":1e-4},{"m":840,"a":1e-4},{"m":860,"a":1e-4},
{"m":960,"a":1e-4},{"m":980,"a":1.9e-4},{"m":1000,"a":1e-4},{"m":1020,"a":1e-4},{"m":1080,"a":1e-4},{"m":1100,"a":1e-4},{"m":1160,"a":1.9e-4},{"m":1200,"b":1.3e-5},{"m":1220,"b":1e-4},{"m":1240,"a":1e-4},{"m":1260,"a":1e-4},{"m":1280,"a":1e-4,"b":1.3e-5},{"m":1300,"a":1e-4},{"m":1320,"a":1e-4},
{"m":1380,"a":1e-4},{"m":1400,"a":1e-4},{"m":1420,"a":1e-4},{"m":1440,"a":1e-4},{"m":1460,"a":1e-4},{"m":1480,"a":1e-4},{"m":1500,"a":1e-4},{"m":1520,"a":1e-4},{"m":1540,"a":1e-4},{"m":1580,"b":1e-4},{"m":1600,"b":1e-4},{"m":1620,"b":1e-4},{"m":1640,"b":1.3e-5},
{"m":1680,"a":1e-4},{"m":1700,"a":1.9e-4},{"m":1720,"a":1e-4},{"m":1760,"a":1e-4},{"m":1800,"a":1e-4},{"m":1820,"a":1e-4},{"m":1860,"a":1e-4},{"m":1880,"a":1e-4},{"m":1900,"a":1e-4},{"m":1920,"a":1e-4,"b":1.3e-5},{"m":1940,"a":1e-4},{"m":1960,"a":1e-4},{"m":1980,"a":1e-4},{"m":2000,"a":1e-4},{"m":2020,"a":1e-4},
{"m":2040,"a":1.9e-4},{"m":2060,"a":1e-4},{"m":2080,"a":1e-4},{"m":2100,"a":1e-4},{"m":2200,"a":1e-4},{"m":2220,"a":1e-4},{"m":2240,"a":1e-4},{"m":2260,"a":1e-4},{"m":2280,"a":1e-4},{"m":2300,"a":1e-4},{"m":2320,"b":1.3e-5},{"m":2340,"b":1.3e-5},{"m":2360,"b":1e-4},
{"m":2420,"a":1e-4},{"m":2440,"b":1e-4},{"m":2460,"b":1e-4},{"m":2480,"a":1e-4},{"m":2520,"b":1e-4},{"m":2540,"a":1.9e-4},{"m":2560,"a":1e-4},{"m":2580,"a":1e-4},{"m":2600,"a":1e-4},{"m":2620,"a":1e-4},{"m":2640,"a":1e-4},{"m":2660,"b":1e-4},{"m":2680,"a":1e-4},
{"m":2780,"a":1e-4},{"m":2800,"a":1e-4},{"m":2820,"b":1e-4},{"m":2900,"b":1e-4},{"m":2940,"a":1e-4},{"m":2960,"a":1e-4},{"m":2980,"a":1e-4},{"m":3000,"a":1e-4},{"m":3020,"a":2.9e-4},{"m":3040,"a":1e-4},{"m":3140,"a":1e-4},{"m":3160,"a":1e-4},
{"m":3220,"a":1e-4},{"m":3240,"a":1e-4,"b":1.3e-5},{"m":3260,"a":1e-4},{"m":3280,"a":1e-4},{"m":3300,"a":1e-4},{"m":3320,"a":1e-4},{"m":3340,"a":1e-4},{"m":3440,"a":1e-4},{"m":3460,"a":1e-4},{"m":3480,"a":1e-4},{"m":3500,"a":1e-4},{"m":3520,"a":1e-4},
{"m":3580,"a":1e-4},{"m":3600,"a":1e-4},{"m":3620,"a":1e-4},{"m":3640,"a":1e-4},{"m":3660,"a":1.9e-4},{"m":3680,"a":1e-4},{"m":3700,"a":1e-4},{"m":3720,"a":1e-4},{"m":3740,"a":1e-4},{"m":3760,"a":1e-4},{"m":3780,"a":1e-4},{"m":3800,"a":1e-4},{"m":3820,"a":1e-4},{"m":3840,"a":1e-4},{"m":3860,"b":1.3e-5},
{"m":3920,"a":1e-4,"b":1e-4},{"m":3940,"a":1e-4,"b":1.3e-5},{"m":4040,"a":1e-4},{"m":4060,"a":1e-4},{"m":4080,"a":1.9e-4},{"m":4100,"a":1e-4},{"m":4120,"a":1e-4},{"m":4140,"a":1e-4,"b":1.3e-5},{"m":4160,"a":1e-4},{"m":4180,"a":1e-4},{"m":4200,"a":1e-4},{"m":4220,"a":1e-4}
 ]},
 "transform": [{"fold": ["a", "b", "c"], "as": ["s", "v"]}],
 "layer": [
  {"transform": [{"filter": "datum.s == 'a'"}],
   "mark": {"type": "square", "size": 5, "opacity": 1},
   "encoding": {
    "x": {"field": "m", "type": "quantitative", "scale": {"domain": [0, 4320], "nice": false, "zero": false}, "axis": {"orient": "bottom", "values": [0,360,720,1080,1440,1800,2160,2520,2880,3240,3600,3960,4320], "tickSize": -4, "labelPadding": 11, "labelFlush": false, "labelExpr": "datum.value == 0 ? '06-May' : datum.value == 1440 ? '07-May' : datum.value == 2880 ? '08-May' : datum.value == 4320 ? '09-May' : ''", "title": "STEREO Ahead", "titleX": 0, "titleY": 36, "titleAlign": "left", "titleAnchor": "start", "titleBaseline": "alphabetic", "titleAngle": 0}},
    "y": {"field": "v", "type": "quantitative", "scale": {"type": "log", "domain": [0.00001, 1000], "nice": false}, "axis": {"orient": "left", "values": [0.0001,0.001,0.01,0.1,1,10,100], "tickSize": {"condition": {"test": "round(log(datum.value)/LN10) % 2 == 0", "value": -14}, "value": -7}, "labelPadding": 19, "labelFlush": true, "labelExpr": "round(log(datum.value)/LN10) % 2 == 0 ? '10' + (datum.value < 1 ? '⁻' : '') + substring('⁰¹²³⁴⁵⁶⁷⁸⁹', abs(round(log(datum.value)/LN10)), abs(round(log(datum.value)/LN10)) + 1) : ''", "title": "1/(cm² s sr MeV/nuc.)", "titleX": -47, "titleBaseline": "middle", "titleAngle": -90}},
    "color": {"field": "s", "type": "nominal", "scale": {"domain": ["a", "b", "c"], "range": ["black", "blue", "red"]}, "legend": {"title": null, "columnPadding": 21, "labelExpr": "datum.value == 'a' ? '4 to 12 MeV/n He' : datum.value == 'b' ? '4 to 12 MeV/n CNO' : '4 to 12 MeV Fe'", "encode": {"labels": {"update": {"fill": {"signal": "datum.value == 'a' ? 'black' : datum.value == 'b' ? 'blue' : 'red'"}}}}}}
   }},
  {"transform": [{"filter": "datum.s != 'a'"}],
   "mark": {"type": "square", "size": 5, "opacity": 1},
   "encoding": {
    "x": {"field": "m", "type": "quantitative", "scale": {"domain": [0, 4320], "nice": false, "zero": false}, "axis": {"orient": "top", "values": [0,360,720,1080,1440,1800,2160,2520,2880,3240,3600,3960,4320], "tickSize": -4, "labels": false, "title": "Start:\u00a0 6-May-2017 00:00 UTC", "titleX": 210, "titleY": 216, "titleAlign": "left", "titleBaseline": "alphabetic", "titleAngle": 0}},
    "y": {"field": "v", "type": "quantitative", "scale": {"type": "log", "domain": [0.00001, 1000], "nice": false}, "axis": {"orient": "right", "values": [0.0001,0.001,0.01,0.1,1,10,100], "tickSize": {"condition": {"test": "round(log(datum.value)/LN10) % 2 == 0", "value": -14}, "value": -7}, "labels": false, "title": null}},
    "color": {"field": "s", "type": "nominal", "scale": {"domain": ["a", "b", "c"], "range": ["black", "blue", "red"]}, "legend": {"title": null, "columnPadding": 21, "labelExpr": "datum.value == 'a' ? '4 to 12 MeV/n He' : datum.value == 'b' ? '4 to 12 MeV/n CNO' : '4 to 12 MeV Fe'", "encode": {"labels": {"update": {"fill": {"signal": "datum.value == 'a' ? 'black' : datum.value == 'b' ? 'blue' : 'red'"}}}}}}
   }}
 ],
 "resolve": {"axis": {"x": "independent", "y": "independent"}}
}
]
}
